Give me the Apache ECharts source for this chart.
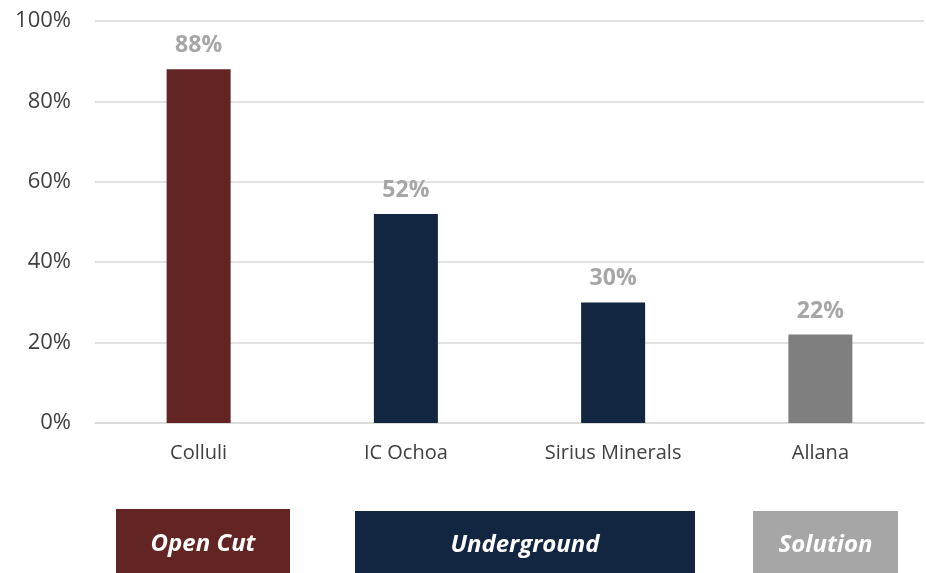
<!DOCTYPE html>
<html><head><meta charset="utf-8">
<script src="https://cdn.jsdelivr.net/npm/echarts@6/dist/echarts.min.js"></script>
<style>html,body{margin:0;padding:0;background:#fff}#c{width:926px;height:573px}</style>
</head><body><div id="c"></div>
<script>
const categories = ['Colluli', 'IC Ochoa', 'Sirius Minerals', 'Allana'];
const values = [88, 52, 30, 22];
const barColors = ['#632523', '#122641', '#122641', '#7f7f7f'];
const yTicks = [0, 20, 40, 60, 80, 100];
const groupLabels = ['Open Cut', 'Underground', 'Solution'];
const groupColors = ['#632523', '#122641', '#a6a6a6'];

const chart = echarts.init(document.getElementById('c'));
const boxes = [
  {x: 116, y: 509, w: 174, h: 64},
  {x: 355, y: 511, w: 340, h: 62},
  {x: 753, y: 511, w: 145, h: 62}
];
chart.setOption({
  animation: false,
  grid: {left: 95, right: 2, top: 21, bottom: 150},
  xAxis: {
    type: 'category', data: categories,
    axisLine: {lineStyle: {color: '#d9d9d9', width: 1.5}},
    axisTick: {show: false},
    axisLabel: {color: '#404040', fontSize: 20, fontFamily: 'Open Sans', margin: 20}
  },
  yAxis: {
    type: 'value', min: yTicks[0], max: yTicks[yTicks.length - 1], interval: 20,
    axisLine: {show: false}, axisTick: {show: false},
    splitLine: {lineStyle: {color: '#d9d9d9', width: 1.5}},
    axisLabel: {color: '#404040', fontSize: 22, fontFamily: 'Open Sans', margin: 24, formatter: '{value}%'}
  },
  series: [{
    type: 'bar', barWidth: 64,
    data: values.map((v, i) => ({value: v, itemStyle: {color: barColors[i]}})),
    label: {show: true, position: 'top', distance: 12, formatter: '{c}%', color: '#a6a6a6',
      fontWeight: 'bold', fontSize: 23, fontFamily: 'Open Sans'}
  }],
  graphic: boxes.map((b, i) => ({
    type: 'group', left: b.x, top: b.y,
    children: [
      {type: 'rect', shape: {x: 0, y: 0, width: b.w, height: b.h}, style: {fill: groupColors[i]}},
      {type: 'text', x: b.w / 2, y: b.h / 2 + 3, style: {text: groupLabels[i], fill: '#fff',
        font: 'italic bold 24px "Open Sans"', align: 'center', verticalAlign: 'middle'}}
    ]
  }))
});
</script></body></html>
